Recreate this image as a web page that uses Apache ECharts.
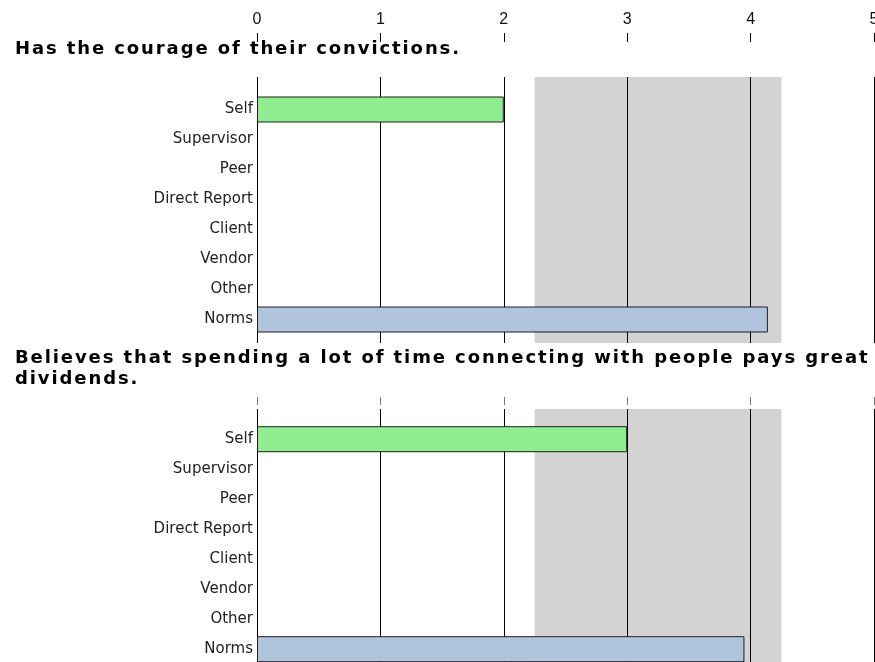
<!DOCTYPE html>
<html>
<head>
<meta charset="utf-8">
<script src="https://cdn.jsdelivr.net/npm/echarts@6/dist/echarts.min.js"></script>
<style>
  html, body { margin: 0; padding: 0; background: #fff; }
  #chart { width: 875px; height: 662px; }
</style>
</head>
<body>
<div id="chart"></div>
<script>
// Rater groups shown on every statement
const raters = ['Self', 'Supervisor', 'Peer', 'Direct Report', 'Client', 'Vendor', 'Other', 'Norms'];
// Statements rated (one panel each)
const statements = [
  'Has the courage of their convictions.',
  'Believes that spending a lot of time connecting with people pays great\ndividends.'
];
// Scores per statement
const selfScores = [2, 3];
const normScores = [4.14, 3.95];
// Shaded norm range on the rating scale
const normBand = [2.25, 4.25];
// Rating scale
const scaleMin = 0;
const scaleMax = 5;
const scaleStep = 1;

// Bold statement headings are drawn with a little extra tracking.
(function () {
  const proto = CanvasRenderingContext2D.prototype;
  const baseFillText = proto.fillText;
  proto.fillText = function (text, x, y, maxWidth) {
    if ('letterSpacing' in this) {
      this.letterSpacing = /bold/.test(this.font) ? '1.9px' : '0px';
    }
    return maxWidth === undefined
      ? baseFillText.call(this, text, x, y)
      : baseFillText.call(this, text, x, y, maxWidth);
  };
})();

const FONT = 'DejaVu Sans';
const panels = [
  { plotTop: 77, barTop: 94.5, titleTop: 39, showScale: true },
  { plotTop: 409, barTop: 424.2, titleTop: 348, showScale: false }
];
const PLOT_H = 266;
const BAND_H = 30 * raters.length;

const grid = [], xAxis = [], yAxis = [], series = [], title = [];

panels.forEach(function (p, i) {
  title.push({
    text: statements[i],
    left: 15,
    top: p.titleTop,
    padding: 0,
    textStyle: { fontFamily: FONT, fontSize: 18, fontWeight: 'bold', color: '#000', lineHeight: 21 }
  });

  // background grid: norm band, scale lines, scale ticks
  const bg = grid.length;
  grid.push({ left: 257, right: 1, top: p.plotTop, height: PLOT_H, containLabel: false, outerBoundsMode: 'none' });
  xAxis.push({
    gridIndex: bg, type: 'value', min: scaleMin, max: scaleMax, interval: scaleStep,
    position: 'top', offset: p.showScale ? 35 : 4, z: 2,
    axisLine: { show: true, onZero: false, lineStyle: { color: 'rgba(0,0,0,0)' } },
    axisTick: { show: true, length: p.showScale ? 9 : 8, lineStyle: { color: p.showScale ? '#000' : '#777', width: 1 } },
    axisLabel: {
      show: p.showScale, margin: 14, showMinLabel: true, showMaxLabel: true, hideOverlap: false,
      fontFamily: 'Liberation Sans', fontSize: 16, color: '#111'
    },
    splitLine: { show: true, lineStyle: { color: '#000', width: 1 } }
  });
  yAxis.push({ gridIndex: bg, type: 'value', show: false, min: 0, max: 1 });
  series.push({
    type: 'line', xAxisIndex: bg, yAxisIndex: bg, data: [], z: 1, silent: true,
    markArea: {
      silent: true,
      itemStyle: { color: '#d3d3d3' },
      data: [[{ xAxis: normBand[0] }, { xAxis: normBand[1] }]]
    }
  });

  // foreground grid: rater bars
  const fg = grid.length;
  grid.push({ left: 257, right: 1, top: p.barTop, height: BAND_H, containLabel: false, outerBoundsMode: 'none' });
  xAxis.push({ gridIndex: fg, type: 'value', min: scaleMin, max: scaleMax, show: false });
  yAxis.push({
    gridIndex: fg, type: 'category', data: raters, inverse: true,
    axisLine: { show: false }, axisTick: { show: false }, splitLine: { show: false },
    axisLabel: { margin: 4, fontFamily: FONT, fontSize: 15, color: '#222' }
  });
  const barStyle = { borderColor: '#1e1e1e', borderWidth: 1 };
  series.push({
    name: 'Self', type: 'bar', xAxisIndex: fg, yAxisIndex: fg, z: 3,
    barWidth: 26, barGap: '-100%',
    itemStyle: Object.assign({ color: '#90ee90' }, barStyle),
    data: raters.map(function (r) { return r === 'Self' ? selfScores[i] : '-'; })
  });
  series.push({
    name: 'Norms', type: 'bar', xAxisIndex: fg, yAxisIndex: fg, z: 3,
    barWidth: 26, barGap: '-100%',
    itemStyle: Object.assign({ color: '#b0c4de' }, barStyle),
    data: raters.map(function (r) { return r === 'Norms' ? normScores[i] : '-'; })
  });
});

const chart = echarts.init(document.getElementById('chart'), null, { renderer: 'canvas' });
chart.setOption({
  animation: false,
  backgroundColor: '#fff',
  title: title,
  grid: grid,
  xAxis: xAxis,
  yAxis: yAxis,
  series: series
});
</script>
</body>
</html>
